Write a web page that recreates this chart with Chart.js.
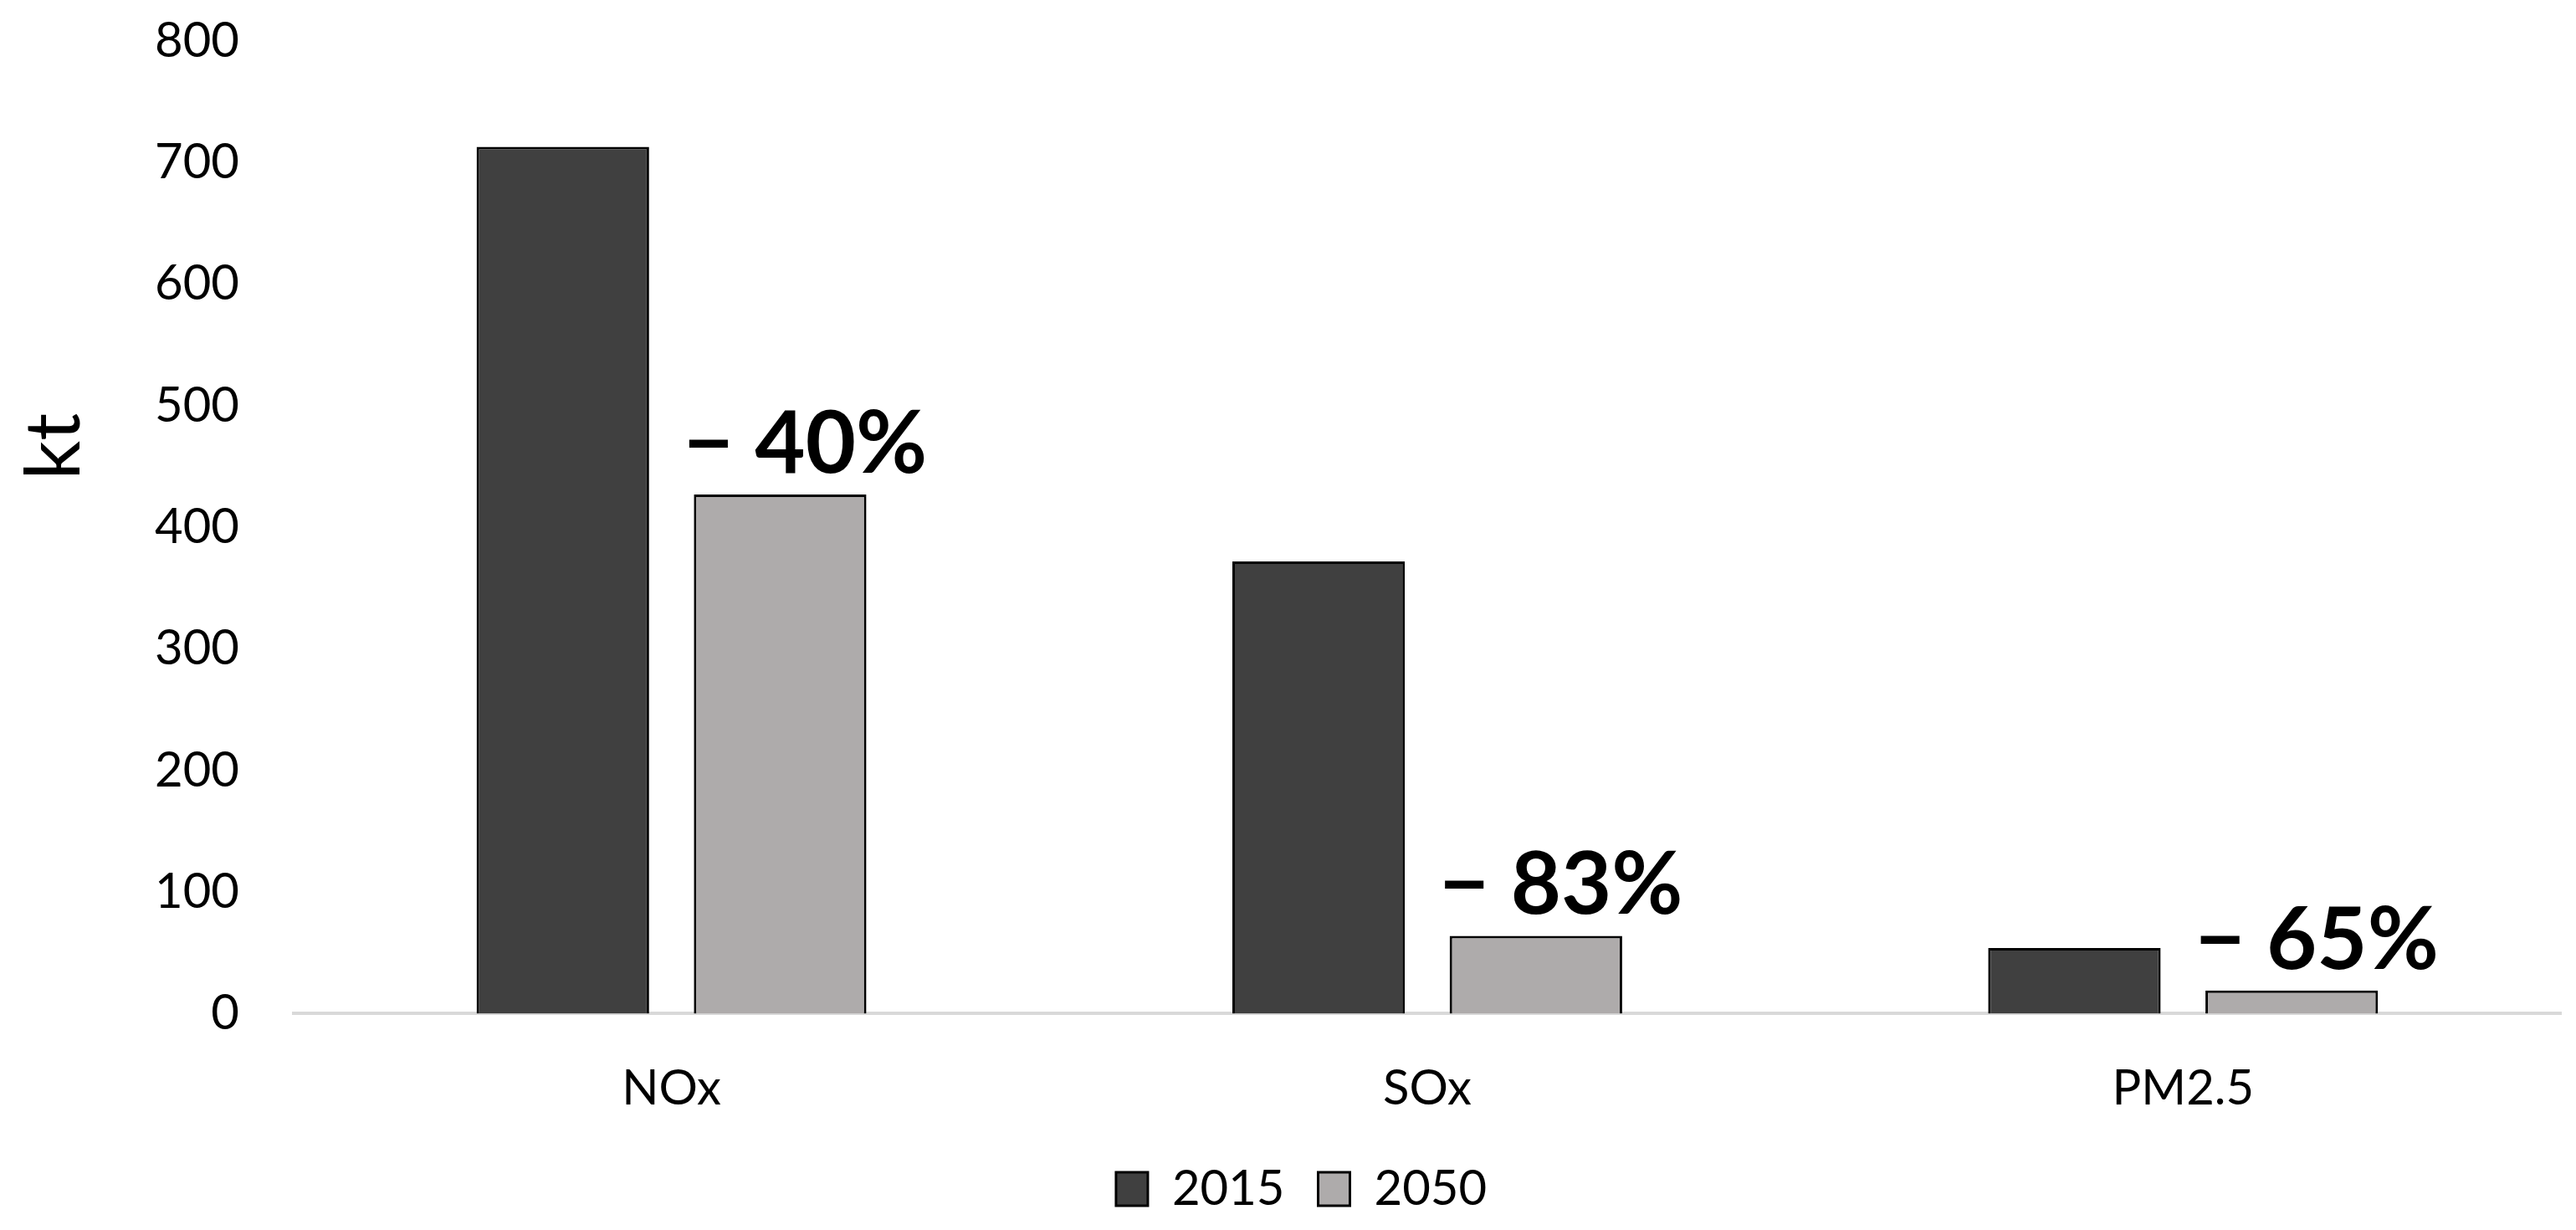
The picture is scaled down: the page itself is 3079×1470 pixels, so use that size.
<!DOCTYPE html>
<html>
<head>
<meta charset="utf-8">
<title>Emissões</title>
<script src="https://cdn.jsdelivr.net/npm/chart.js@4/dist/chart.umd.min.js"></script>
<style>
    body { margin: 0; background: #fff; }
    canvas { display: block; }
</style>
</head>
<body>
<canvas id="graficoEmissoes" width="3079" height="1470"></canvas>
<script>
// Dados (kt)
const categorias = ['NOx', 'SOx', 'PM2.5'];
const valores2015 = [713, 372, 54];
const valores2050 = [427, 64, 19];
const reducoes = ['\u2212 40%', '\u2212 83%', '\u2212 65%'];
const ticksY = [0, 100, 200, 300, 400, 500, 600, 700, 800];
const tituloY = 'kt';

Chart.defaults.font.family = 'Lato, Calibri, Carlito, sans-serif';
Chart.defaults.color = '#000';

// plugin simples: redução em cima das barras de 2050 + título do eixo y
const rotulosReducao = {
    id: 'rotulosReducao',
    afterDatasetsDraw(chart) {
        const ctx = chart.ctx;
        const area = chart.chartArea;
        const meta = chart.getDatasetMeta(1);
        ctx.save();
        ctx.font = 'bold 104px Lato, Calibri, sans-serif';
        ctx.fillStyle = '#000';
        ctx.textAlign = 'center';
        ctx.textBaseline = 'alphabetic';
        meta.data.forEach(function (barra, i) {
            ctx.fillText(reducoes[i], barra.x + 30, barra.y - 26);
        });

        // título "kt" (um pouco acima do meio do eixo, como no original)
        ctx.font = '92px Lato, Calibri, sans-serif';
        ctx.textBaseline = 'middle';
        ctx.translate(65, area.top + (area.bottom - area.top) * 0.417);
        ctx.rotate(-Math.PI / 2);
        ctx.fillText(tituloY, 0, 0);
        ctx.restore();
    }
};

let dados = {
    labels: categorias,
    datasets: [{
        label: '2015',
        data: valores2015,
        backgroundColor: '#404040',
        borderColor: '#000',
        borderWidth: 3,
        categoryPercentage: 0.575,
        barPercentage: 0.794
    },
    {
        label: '2050',
        data: valores2050,
        backgroundColor: '#AEABAB',
        borderColor: '#000',
        borderWidth: 3,
        categoryPercentage: 0.575,
        barPercentage: 0.794
    }]
};

const config = {
    type: 'bar',
    data: dados,
    options: {
        responsive: false,
        animation: false,
        devicePixelRatio: 1,
        layout: {
            padding: { top: 0, right: 18, left: 50, bottom: 10 }
        },
        scales: {
            x: {
                grid: { display: false, drawTicks: false },
                border: { display: true, color: '#D9D9D9', width: 4 },
                ticks: { font: { size: 58 }, padding: 55 },
                // reduz o espaço reservado para o eixo x (rótulos continuam no mesmo lugar)
                afterFit: function (eixo) {
                    eixo.height = eixo.height - 39;
                }
            },
            y: {
                min: 0,
                max: 800,
                afterBuildTicks: function (eixo) {
                    eixo.ticks = ticksY.map(v => ({ value: v }));
                },
                // o padding dos ticks também entra em cima, então corrijo aqui
                // e deixo espaço à esquerda para o "kt"
                afterFit: function (eixo) {
                    eixo.paddingTop = 49;
                    eixo.width = eixo.width + 70;
                },
                grid: { display: false, drawTicks: false },
                border: { display: false },
                ticks: { font: { size: 58 }, padding: 65 }
            }
        },
        plugins: {
            legend: {
                position: 'bottom',
                labels: {
                    font: { size: 58 },
                    boxWidth: 38,
                    boxHeight: 40,
                    padding: 40
                }
            },
            tooltip: { enabled: false }
        }
    },
    plugins: [rotulosReducao]
};

let graficoEmissoes = new Chart(
    document.getElementById('graficoEmissoes'),
    config
);
</script>
</body>
</html>
